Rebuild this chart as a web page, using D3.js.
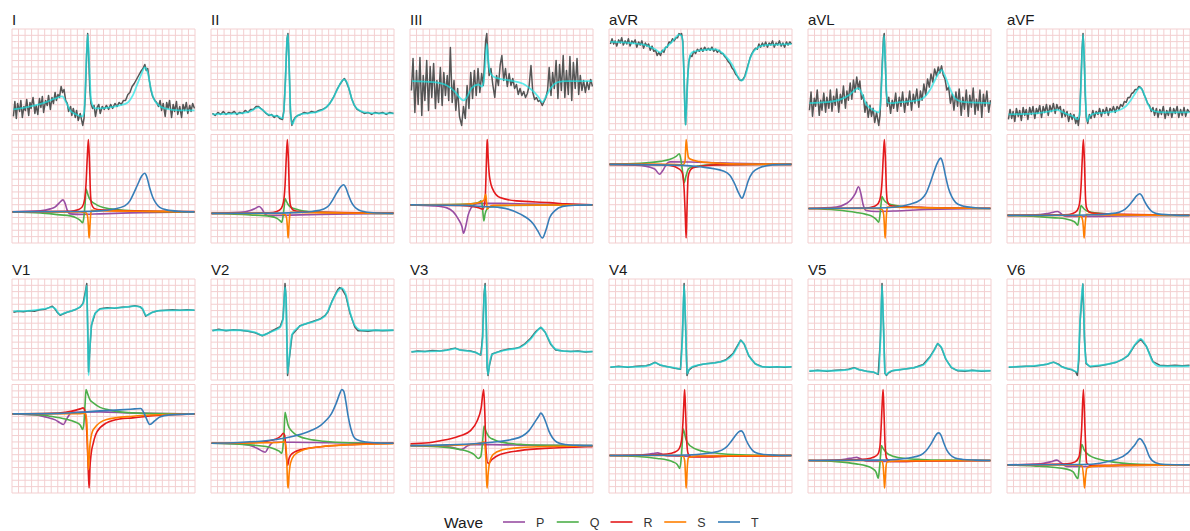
<!DOCTYPE html>
<html>
<head>
<meta charset="utf-8">
<script src="https://cdn.jsdelivr.net/npm/d3@7"></script>
<style>
  body { margin: 0; background: #fff; }
  svg { display: block; font-family: "Liberation Sans", Arial, sans-serif; }
</style>
</head>
<body>
<svg id="chart" width="1190" height="531"></svg>
<script>
// ECG beat decomposition: recorded signal + fitted curve, and the P/Q/R/S/T components.
// time t runs 0..100 across one beat, amplitudes in arbitrary units.
// every series is a flat list: t, value, t, value, ...

const leadNames = ["I", "II", "III", "aVR", "aVL", "aVF", "V1", "V2", "V3", "V4", "V5", "V6"];
const waveNames = ["P", "Q", "R", "S", "T"];
const waveColors = ["#984EA3", "#4DAF4A", "#E41A1C", "#FF7F00", "#377EB8"];

const signalData = [
  // I
  [0.5,14, 1.3,29, 2.1,12, 2.8,27, 3.9,19, 4.6,30, 5.4,13, 6.3,24, 7.1,20, 7.8,31, 8.9,15, 9.6,28, 10.2,22, 11.3,33, 12.3,17, 13,25, 13.9,16, 14.8,32, 15.6,23, 16.4,34, 17.1,18, 18.2,30, 19.1,25, 19.8,35, 20.8,21, 21.7,33, 22.5,27, 23.4,38, 24.1,30, 25,36, 25.8,33, 26.7,44, 27.5,38, 28.3,41, 29.2,30, 30.1,27, 30.8,19, 31.9,24, 32.6,15, 33.4,22, 34.5,13, 35.2,20, 36.1,10, 37.2,17, 37.9,11, 38.6,5, 39.3,12, 40,35, 40.7,75, 41.3,97, 41.9,72, 42.5,40, 43.1,27, 44,22, 44.8,25, 45.6,14, 46.5,23, 47.4,26, 48.2,17, 49.3,24, 50.4,21, 51.6,25, 52.8,21, 53.9,26, 55,22, 56.3,27, 57.5,24, 58.6,28, 59.8,26, 61,30, 62.1,30, 63.4,36, 64.5,38, 65.7,44, 66.9,47, 68.1,51, 69.3,55, 70.5,59, 71.7,62, 72.7,66, 73.5,60, 74.3,62, 75.1,51, 76,41, 77,34, 78.2,30, 79.2,28, 80.2,24, 81.1,30, 81.9,20, 82.8,27, 83.9,14, 84.7,28, 85.5,22, 86.3,30, 87.4,13, 88.3,26, 89.1,19, 90.1,29, 90.8,16, 91.9,24, 92.9,13, 93.7,26, 94.6,20, 95.5,28, 96.3,17, 97.4,25, 98.1,19, 99,27, 100,22],
  // II
  [0.5,17, 2,15, 3.5,18, 5,16, 6.5,19, 8,16, 9.5,18, 11,17, 12.5,19, 14,16, 15.5,18, 17,17, 18.5,20, 20,18, 21.5,21, 23,21, 24.5,24, 25.7,24, 27,22, 28.4,20, 30,17, 31.5,15, 33,16, 34.5,13, 36,15, 37.5,12, 39,11, 39.8,20, 40.6,50, 41.5,92, 42,97, 42.6,68, 43.4,18, 44.2,5, 45,10, 46,13, 47.5,15, 49,16, 51,18, 53,17, 55,19, 57,18, 59,20, 61,21, 63,23, 65,27, 67,33, 69,41, 70.5,46, 72,50, 73,52, 74,49, 75.5,42, 77,32, 78.5,25, 80,21, 82,19, 84,17, 86,18, 88,16, 90,18, 92,17, 94,18, 96,16, 98,18, 100,17],
  // III
  [0.5,40, 1.4,72, 2.4,18, 3.3,60, 4.2,26, 5.2,73, 6.2,15, 7,55, 7.9,30, 8.9,70, 9.9,20, 10.8,64, 11.7,33, 12.7,67, 13.7,22, 14.5,50, 15.4,28, 16.4,63, 17.4,25, 18.3,58, 19.2,35, 20.2,55, 21,30, 21.9,83, 22.9,28, 23.9,50, 24.9,20, 25.9,42, 26.9,14, 28.1,5, 29.1,24, 30.1,12, 31.1,45, 32.1,22, 33.1,58, 34.1,32, 35.1,60, 36.1,35, 37.1,62, 38.1,38, 39.1,57, 40,45, 40.7,70, 41.3,90, 41.9,97, 42.5,75, 43.2,55, 44.2,62, 45.2,46, 46.3,33, 47.3,55, 48.3,45, 49.3,66, 50.2,75, 51.2,50, 52.2,62, 53.2,44, 54.2,57, 55.2,45, 56.2,52, 57.2,42, 58.2,46, 59.2,36, 60.2,42, 61.2,35, 62.2,39, 63.2,33, 64.2,37, 65.2,45, 66.2,65, 67.2,38, 68.2,31, 69.2,33, 70.2,29, 71.2,30, 72.4,25, 73.4,29, 74.4,33, 75.3,40, 76.2,63, 77.2,35, 78.1,58, 79,42, 80,70, 81,32, 81.9,66, 82.9,40, 83.9,75, 84.8,33, 85.7,60, 86.7,36, 87.6,74, 88.6,30, 89.5,68, 90.5,42, 91.5,72, 92.4,36, 93.3,55, 94.2,40, 95.1,50, 96.1,38, 97,49, 98,41, 99,51, 100,44],
  // aVR
  [0.5,83, 1.4,88, 2.3,83, 3.1,86, 4,81, 5,87, 5.9,84, 6.7,89, 7.6,82, 8.6,86, 9.5,83, 10.4,88, 11.3,81, 12.3,86, 13.2,84, 14.1,87, 15,80, 16,85, 16.9,82, 17.8,86, 18.7,79, 19.7,84, 20.6,81, 21.5,83, 22.4,77, 23.4,81, 24.3,76, 25.3,77, 26.2,72, 27.1,75, 28,72, 29,77, 29.9,75, 30.8,80, 31.7,80, 32.7,85, 33.6,84, 34.6,88, 35.5,86, 36.5,89, 37.4,89, 38.2,93, 38.9,92, 39.6,93, 40.3,85, 40.9,55, 41.5,15, 41.8,6, 42.3,25, 42.9,50, 43.6,66, 44.4,72, 45.3,71, 46.3,76, 47.3,74, 48.3,78, 49.3,76, 50.3,79, 51.3,76, 52.3,80, 53.3,77, 54.3,79, 55.3,77, 56.3,80, 57.3,76, 58.3,78, 59.3,75, 60.3,77, 61.3,74, 62.3,74, 63.3,71, 64.3,69, 65.3,66, 66.3,64, 67.3,60, 68.3,58, 69.3,54, 70.3,52, 71.3,49, 72.3,48, 73.3,49, 74.3,52, 75.3,58, 76.3,64, 77.3,70, 78.3,74, 79.3,77, 80.3,79, 81.2,78, 82.1,83, 83,80, 84,84, 84.9,81, 85.8,85, 86.8,80, 87.7,84, 88.6,82, 89.6,86, 90.5,80, 91.5,84, 92.4,82, 93.4,86, 94.3,81, 95.3,84, 96.2,80, 97.2,85, 98.1,82, 99.1,85, 100,83],
  // aVL
  [0.5,20, 1.4,38, 2.2,14, 3.2,32, 3.9,24, 4.8,40, 5.9,15, 6.7,30, 7.4,20, 8.4,37, 9.4,18, 10.1,33, 11.2,22, 12,40, 12.9,19, 13.8,34, 14.7,25, 15.5,41, 16.6,18, 17.5,36, 18.3,27, 19.2,44, 20.3,22, 21.1,39, 21.9,30, 22.9,47, 23.8,31, 24.7,50, 25.6,38, 26.5,53, 27.4,41, 28.2,49, 29.1,31, 30.1,35, 31,18, 31.9,28, 32.8,13, 33.8,25, 34.6,14, 35.5,22, 36.4,8, 37.4,18, 38.6,5, 39.3,15, 39.9,40, 40.6,70, 41.2,92, 41.6,96, 42.1,72, 42.7,40, 43.3,24, 44.1,33, 45.1,17, 46,30, 46.8,22, 47.9,37, 48.8,19, 49.9,33, 50.8,24, 51.7,38, 52.8,18, 53.7,32, 54.6,25, 55.6,39, 56.6,20, 57.6,36, 58.5,27, 59.5,41, 60.6,23, 61.5,39, 62.4,30, 63.4,46, 64.4,35, 65.4,51, 66.4,43, 67.3,56, 68.3,48, 69.3,61, 70.3,54, 71.3,63, 72.2,57, 73.1,64, 74,55, 75,51, 76,40, 77,43, 78,27, 79,36, 79.9,20, 81,38, 81.9,24, 82.8,41, 83.9,15, 84.8,33, 85.7,21, 86.7,40, 87.8,14, 88.6,35, 89.5,23, 90.5,42, 91.5,16, 92.3,31, 93.2,20, 94.2,40, 95.2,13, 96.1,36, 97,24, 98,39, 99,18, 100,30],
  // aVF
  [0.5,10, 1.4,20, 2.3,11, 3.1,18, 4,8, 4.9,21, 5.9,13, 6.7,19, 7.6,9, 8.6,22, 9.5,14, 10.3,20, 11.2,10, 12.2,22, 13.1,15, 14,23, 15,11, 15.9,21, 16.7,16, 17.7,24, 18.7,12, 19.6,23, 20.5,17, 21.4,25, 22.4,14, 23.3,24, 24.2,18, 25.2,26, 26.2,16, 27.1,25, 28,20, 29,23, 29.9,12, 30.8,20, 31.7,13, 32.7,18, 33.6,8, 34.6,16, 35.5,10, 36.5,15, 37.5,6, 38.3,12, 38.9,4, 39.6,14, 40.2,40, 40.9,78, 41.5,96, 42.1,74, 42.7,35, 43.3,12, 44.1,6, 45,15, 45.9,11, 46.9,19, 47.8,12, 48.7,18, 49.7,15, 50.6,21, 51.6,13, 52.5,20, 53.5,16, 54.4,22, 55.4,14, 56.3,21, 57.3,18, 58.2,23, 59.2,17, 60.2,23, 61.2,20, 62.2,25, 63.2,23, 64.2,28, 65.2,27, 66.2,32, 67.2,32, 68.2,36, 69.2,37, 70.2,40, 71.2,40, 72.2,43, 73.1,42, 74,40, 75,35, 76,31, 77,26, 78,24, 79,18, 79.9,22, 80.8,14, 81.8,21, 82.7,12, 83.7,20, 84.6,15, 85.6,23, 86.6,11, 87.5,19, 88.4,14, 89.4,22, 90.3,12, 91.3,21, 92.2,16, 93.2,23, 94.1,12, 95.1,20, 96,14, 97,22, 97.9,13, 98.9,20, 100,17],
  // V1
  [0.5,68, 3,69, 6,68.5, 9,69.5, 12,69, 15,70.5, 18,71, 20,72.5, 21.9,74, 23,72, 24.5,68, 26.2,65, 28,66.5, 30,68, 32.8,69.5, 35,71, 37.2,73, 38.8,77, 40,88, 40.8,96.5, 41.3,55, 41.8,8.5, 42.3,26, 43.4,55, 45.4,67, 48.1,71.5, 52,72.5, 56,72, 60,73, 64,73.5, 67.2,74.5, 70,73.5, 71.5,71, 73.2,64, 75,66, 77,68, 80,69.5, 84,70, 88,70.5, 92,70, 96,70.5, 100,70],
  // V2
  [0.5,48, 4,49.5, 8,48, 12,49, 16,48.5, 20,47.5, 24,46, 27.9,43, 31,45.5, 34,48.5, 37.7,52, 39.3,60, 40.4,95, 41,80, 41.8,3.5, 42.6,18, 44.3,44, 48.6,53, 52,55, 56.8,58, 60,60, 62.3,63, 64,67, 66.1,77, 68,84, 69.4,89, 70.5,91, 71.6,90, 73.8,83, 76,66, 78.7,52, 80.5,48, 82.5,48, 86,47.5, 90,48.5, 94,48, 100,48.5],
  // V3
  [0.5,27, 4,28, 8,27.5, 12,28.5, 16,28, 20,29, 22,30, 24.6,31, 27.3,29, 30,28.5, 33,28, 36,26.5, 38.6,24, 39.6,42, 40.4,85, 41,96, 41.6,60, 42.1,12, 42.6,3.5, 43.4,14, 44.8,25, 49.2,28, 54,30, 57,30.5, 60,32, 63,35.5, 66,41, 69,48, 71.6,52, 74,47, 77,35, 79.8,29, 84,28, 88,27.5, 92,28, 96,27, 100,27.5],
  // V4
  [0.5,13, 5,14, 10,13, 15,14, 20,14.5, 22,15.5, 25.1,18, 28,15, 32,13.5, 36,12, 39,11, 40,42, 41,96, 41.8,55, 42.6,5, 43.7,10.5, 45.4,13, 49.7,15.5, 53,16.5, 57.9,17.5, 61,18.5, 64,20.5, 68,27, 70.5,35, 72.1,40, 74,36, 76.5,24.5, 80,16.5, 84.2,13.5, 88,13, 92,13.5, 96,13, 100,13.5],
  // V5
  [0.5,11, 5,12, 10,11, 15,12, 20,12.5, 22,13, 25.1,14.5, 28,12.5, 32,11, 36,10, 38.3,8, 39.5,42, 40.4,96, 41.2,55, 42,9, 42.8,7, 44,9.5, 46,11.5, 50,12.5, 54,13.5, 58,14.5, 63,17.5, 66.5,24.5, 69,31.5, 71,38, 73,34, 75.5,22.5, 78.5,14.5, 82,11.5, 86,11, 90,12, 95,11, 100,11.5],
  // V6
  [0.7,12.5, 5,13, 10,13.5, 14.4,13.5, 18,14.5, 21.7,15.5, 25.3,17.5, 28,15.5, 29.9,13, 33,11, 35.4,10, 37.5,8, 38.4,4.5, 39.2,20, 39.9,58, 41.4,94, 42.3,40, 43.2,16, 45.4,13, 50.8,14, 55,15.5, 59.9,17.5, 63,20, 66.3,24, 69.9,34, 73.2,40, 76.3,33, 79.9,18, 83.6,14.5, 88,14, 92,14.5, 96,14, 100,14.5]
];

const fitData = [
  [0.5,21, 9.8,24, 18,28, 23.5,32, 27.3,34, 29.5,28, 31.7,20, 35,16, 38.3,14, 39.3,18, 40.4,60, 41.3,96, 42.1,70, 43.2,30, 45.4,22, 48.1,22, 53.6,23, 59,25, 63.4,28, 66.1,35, 68.3,45, 70.5,55, 72.7,63, 74.3,58, 76,42, 77.6,32, 79.8,26, 83.6,22, 91.8,20, 100,20],
  [0.5,16, 15.8,17, 21.3,19, 25.7,23, 28.4,20, 31.1,16, 36.6,14, 39.3,12, 40.4,40, 41.5,90, 42,96, 42.6,70, 43.4,20, 44.3,6, 45.9,12, 48.6,16, 56.8,18, 62.3,22, 66.1,30, 69.4,42, 72.7,51, 74.9,46, 77,32, 79.8,22, 84.2,18, 92.3,17, 100,17],
  [0.9,49.3, 12.7,48.3, 20,45, 24.6,38.3, 27.3,32.3, 29.1,30, 31,33.3, 33.7,42.7, 37.3,46, 39.2,44, 40,46.7, 41,63.3, 41.9,86.7, 42.6,73.3, 43.7,58.3, 45.5,54, 49.2,51.7, 54.6,50, 61.9,46.7, 66.5,40.7, 70.1,34, 72.5,28.3, 74.7,35, 77.4,43.3, 81,48.3, 85.6,49.3, 100,49.3],
  [0.5,85, 11.5,84, 19.7,82, 25.1,78, 27.9,75, 30.6,79, 34.4,85, 38.3,92, 39.9,90, 41,50, 41.8,5, 42.6,35, 43.7,68, 45.4,75, 49.7,77, 57.9,78, 63.4,72, 67.8,62, 70.5,52, 72.7,48, 74.9,54, 77,68, 80.3,78, 85.2,82, 100,83],
  [0.5,27, 10,28, 18,31, 23,36, 27.3,42, 29.5,36, 31.7,26, 35,21, 38.6,18, 39.5,25, 40.5,60, 41.5,94, 42.2,70, 43.2,28, 45.4,27, 50,28, 57,29, 62,31, 66.7,40, 69.5,50, 72,58, 73.2,60, 74.5,56, 77.6,42, 80,33, 82,30, 86,28, 100,27],
  [0.5,15, 10,15.5, 18,16.5, 23,18, 27.3,19.5, 30,17.5, 33,15, 36,13, 38.6,10, 39.6,15, 40.6,55, 41.5,95, 42.2,70, 43.1,22, 43.8,8, 45,13, 48,16, 55,17, 61,19, 65,23, 68,30, 70.5,37, 72.7,42, 74.5,38, 76.5,28, 78.5,21, 81,18, 86,17, 100,17],
  [0.5,69, 9.8,69.5, 18,71.5, 21.9,73, 23.5,71.5, 26.2,65.5, 29,67.5, 32.8,69.5, 37.2,73.5, 38.8,76.5, 40.2,87.5, 40.8,94.5, 41.3,49.5, 41.8,5, 42.3,24.5, 43.4,54.5, 45.4,66.5, 48.1,71, 59,72.5, 67.2,74, 71,72.5, 73.6,64.5, 76.5,67.5, 80.9,69.5, 100,70],
  [0.5,48.5, 15.8,48.5, 24,46.5, 27.9,43.5, 32.2,46.5, 37.7,51.5, 39.3,59.5, 40.4,91.5, 41,79.5, 41.8,5.5, 42.6,19.5, 44.3,44.5, 48.6,52.5, 56.8,57.5, 62.3,62.5, 66.1,76.5, 69.4,87.5, 71.6,90.5, 73.8,84.5, 76,67.5, 78.7,53.5, 82.5,48.5, 100,48.5],
  [0.5,27.5, 15,28, 22,29.5, 24.6,30.5, 27.3,29, 32,28, 36,26.5, 38.6,24.5, 39.6,40, 40.4,80, 41,94.5, 41.6,60, 42.1,15, 42.6,4.5, 43.4,15, 44.8,24.5, 49.2,27.5, 54,29.5, 60,31.5, 63,35, 66,40, 69,47, 71.6,51.5, 74,47, 77,36, 79.8,30, 84,28, 100,27.5],
  [0.5,13.5, 15,13.5, 22,15, 25.1,17.5, 28,15.5, 32,13.5, 36,12.5, 39,11.5, 40,40, 41,94.5, 41.8,55, 42.6,6.5, 43.7,11, 45.4,13.5, 49.7,15.5, 57.9,17.5, 64,20, 68,26, 70.5,34, 72.1,39.5, 74,36, 76.5,25, 80,17, 84.2,13.5, 100,13.5],
  [0.5,11.5, 15,11.5, 22,12.5, 25.1,14, 28,12.5, 32,11, 36,10, 38.3,8.5, 39.5,40, 40.4,94.5, 41.2,55, 42,10, 42.8,7.5, 44,10, 46,11.5, 50,12.5, 58,14.5, 63,17, 66.5,24, 69,31, 71,37.5, 73,34, 75.5,23, 78.5,15, 82,12, 100,11.5],
  [0.7,12.8, 14.4,13.8, 21.7,15.5, 25.3,17.2, 29.9,12.8, 35.4,10.2, 38.4,7.8, 39.9,57.8, 41.4,94.5, 42.3,41.2, 43.2,17.2, 45.4,13.5, 50.8,14.5, 59.9,17.8, 66.3,24.5, 69.9,34.5, 73.2,40.2, 76.3,32.8, 79.9,17.8, 83.6,13.5, 100,13.5]
];

const waveP = [
  [0,0, 15.3,1, 20.8,3, 23.5,5, 25.7,9, 27.7,12, 29,8, 30,2, 31.7,-2, 37.2,-2.5, 48,-2, 64.5,-1, 100,0],
  [0,0, 15.8,1, 21.3,3, 24,5, 26.2,7, 27.9,4, 29.5,-1, 32.2,-2, 48.6,-1.5, 76,-0.5, 100,0],
  [0,0, 12.6,-1, 20,-3, 23.5,-7, 26.2,-14, 28.3,-22, 29.1,-28.3, 30.3,-22, 31.7,-10, 33.3,-3, 35,0.5, 38.3,1.5, 49.2,1.5, 65.6,0.8, 100,0],
  [0,0, 16.9,-1, 22.4,-3, 25.1,-5, 27.5,-10, 29,-7, 30.6,-2, 31.7,1, 33.3,2.5, 44.3,2.3, 60.7,1.5, 82.5,0.5, 100,0],
  [0,0, 15.3,1.5, 20.8,5, 23.5,9, 25.7,15, 27.5,22, 28.8,15, 30,4, 31.7,-2, 37.2,-3, 48,-2.5, 64.5,-1, 100,0],
  [0,0, 15.3,0.5, 20.8,1.5, 23.5,2.5, 25.7,3.5, 27.5,4, 29,2.5, 30.5,0, 32,-1, 40,-1.2, 55,-0.8, 75,-0.3, 100,0],
  [0,0, 12.6,-1, 18,-3, 23.5,-6, 26.2,-9, 28,-10.6, 29.5,-6, 31.1,-1, 32.8,1.7, 48.1,2, 64.5,1, 100,0],
  [0,0, 12.6,-0.5, 20.8,-2, 25,-5, 28,-8, 29.5,-9, 31,-5, 32.5,-1, 34,1, 45,1, 65,0.5, 100,0],
  [0,0, 15,-0.5, 22,-1.5, 25.5,-3, 27.5,-4, 29.5,-2.5, 31.5,0, 33,1, 45,1, 65,0.4, 100,0],
  [0,0, 15.3,0.5, 20.8,1.2, 24,2, 26.5,2.7, 28,2, 30,0.3, 32,-0.5, 45,-0.8, 65,-0.3, 100,0],
  [0,0, 15.3,0.5, 20.8,1.5, 24,2.5, 26.5,3.2, 28,2.2, 30,0.3, 32,-0.8, 45,-1, 65,-0.4, 100,0],
  [0,0, 18,1, 23.5,3, 27.1,4.7, 29.5,2, 32.6,-1.7, 47,-1.7, 61.7,-0.5, 100,0]
];

const waveQ = [
  [0,0, 15.3,-1, 26.2,-3, 31.7,-4, 35,-6, 37.2,-8.5, 38.6,-11, 39.3,-4, 39.9,8, 40.4,23, 41,20, 42.1,14, 43.7,10, 45.4,8, 48,5.5, 53.6,3, 61.7,1.5, 75.4,0.5, 100,0],
  [0,0, 21.3,-1.5, 32.2,-3, 36,-5, 38,-8, 38.6,-9, 39.3,-3, 39.9,6, 40.4,15, 41,13, 42.1,9, 43.7,6, 45.4,5, 48,3.5, 53.6,2, 61.7,1, 100,0],
  [0,0, 27.3,0.5, 35.5,1.5, 38,3, 38.6,4, 39.3,1, 39.8,-8, 40.3,-16, 41,-9, 42.1,-4, 43.7,-2, 49.2,-0.7, 100,0],
  [0,0, 16.9,1, 27.9,3, 33.3,5, 36.6,8, 38.4,10.6, 39.3,4, 40.2,-8, 41,-18.4, 42,-12, 43.2,-5, 44.3,-3.4, 49.7,-1.5, 55.2,-0.5, 100,0],
  [0,0, 15.3,-1.5, 26.2,-4, 31.7,-6, 35,-8, 37.2,-11, 38.6,-14, 39.3,-6, 39.9,5, 40.4,12, 41,10, 42.1,7, 43.7,5, 48,3, 61.7,1, 100,0],
  [0,0, 15.3,-1, 26.2,-2.5, 31.7,-3.5, 35,-5, 37.2,-7, 38.6,-10, 39.3,-3, 39.9,5, 40.4,10, 41,9, 42.1,6.5, 43.7,4.5, 48,2.5, 61.7,0.8, 100,0],
  [0,0, 15.3,-1, 20.8,-2.3, 29,-5, 34.4,-8, 37.2,-11, 38.6,-15.6, 39.3,-8, 39.9,10, 40.4,24.4, 41.3,20, 42.6,14, 44.4,11, 48.1,6.5, 51.7,4.5, 59,2, 72.7,0.5, 100,0],
  [0,0, 15.3,-1, 26.2,-2.5, 31.7,-4, 35,-6, 37.2,-8, 38.6,-10, 39.3,-3, 39.9,12, 40.4,31, 41,27, 42.1,18, 43.7,13, 45.4,10, 48,7, 53.6,4, 61.7,2, 75.4,0.5, 100,0],
  [0,0, 15.3,-1, 26.2,-3.5, 31.7,-6, 35,-9, 37.2,-13, 38.6,-11, 39.3,-2, 39.9,10, 40.4,20, 41,17, 42.1,12, 43.7,8, 45.4,6.5, 48,4.5, 53.6,2.5, 61.7,1.2, 75.4,0.4, 100,0],
  [0,0, 15.3,-1, 26.2,-3, 31.7,-4.5, 35,-6.5, 37.2,-9, 38.6,-13, 39.3,-5, 39.9,10, 40.4,27, 41,24, 42.1,16, 43.7,11, 45.4,8.5, 48,6, 53.6,3.5, 61.7,1.8, 75.4,0.5, 100,0],
  [0,0, 15.3,-1.2, 26.2,-3.5, 31.7,-5.5, 35,-8, 37.2,-12, 38.3,-18, 39,-8, 39.6,5, 40.1,15, 40.7,13, 41.8,10, 43.4,7, 45.4,5, 48,3.5, 53.6,2, 61.7,1, 75.4,0.3, 100,0],
  [0,0, 14.4,-1, 32.6,-4.3, 36.1,-7, 38.7,-13.7, 39.3,-4, 40.2,12, 40.8,20.7, 42.1,15, 45.4,9, 54.5,4, 61.7,2, 72.7,0.5, 100,0]
];

const waveR = [
  [0,0, 31.7,0.5, 36,2, 38.3,5, 39.6,12, 40.4,28, 41.1,55, 41.7,72.7, 42.3,50, 42.8,20, 43.4,8, 44.8,3.5, 48.1,2, 64.5,1, 100,0.3],
  [0,0, 31.7,0.5, 36,2, 38.3,5, 39.6,12, 40.4,28, 41.1,57, 41.7,75, 42.3,52, 42.8,20, 43.4,8, 44.8,3.5, 48.1,2, 64.5,1, 100,0.3],
  [0,0, 27.3,-0.5, 35.5,-2, 38.3,-3.5, 39.9,-4.3, 41,5, 41.5,30, 42,60, 42.2,65.7, 42.6,50, 43.2,32, 43.7,25, 44.8,17.3, 49.2,7.3, 58.3,4, 76.5,2.3, 85.6,1, 100,0],
  [0,0, 27.9,-0.3, 33.3,-1, 37.7,-4, 39.9,-8, 41,-25, 41.7,-55, 42.1,-74, 42.5,-50, 43.2,-13, 44.3,-6, 45.9,-3.4, 49.7,-2, 58.7,-0.5, 100,0],
  [0,0, 31.7,0.5, 36,2, 38.3,5, 39.6,12, 40.4,27, 41.1,53, 41.7,70, 42.3,48, 42.8,19, 43.4,7, 44.8,3, 48.1,2, 64.5,1, 100,0.3],
  [0,0, 31.7,0.5, 36,2, 38.3,5, 39.6,12, 40.4,29, 41.1,58, 41.7,77, 42.3,53, 42.8,21, 43.4,8, 44.8,3.5, 48.1,2, 64.5,1, 100,0.3],
  [0,0, 20.8,0.5, 29,1.7, 34.4,3.5, 37.2,5, 38.8,6, 39.6,4, 40.4,-5, 41.1,-30, 41.7,-60, 42.1,-74, 42.5,-55, 43.2,-40, 44.4,-29, 46.4,-18, 51.7,-9, 59,-5, 66.1,-4, 75.4,-2, 84.5,-1, 91.8,-0.5, 100,0],
  [0,0, 20,0.5, 30,2, 35,4, 38,7, 39.5,10, 40.2,8, 40.8,-5, 41.4,-18, 41.9,-22, 42.5,-16, 43.5,-12, 45.5,-9, 50,-6, 60,-3.5, 75,-1.5, 90,-0.5, 100,0],
  [0,2, 10,3, 16.4,5, 22,7, 27.3,10, 32.8,15, 36.6,25, 38.8,38, 40.2,57, 40.8,35, 41.5,-5, 42.6,-18, 44.8,-14, 49.2,-9, 60.1,-5, 76.5,-2.5, 90,-1.5, 100,-1],
  [0,0, 20,0.5, 31.7,1.5, 36,3.5, 38.3,7, 39.6,15, 40.4,35, 40.9,55, 41.3,67, 41.8,45, 42.4,15, 43.2,2, 45,-1.5, 50,-1.5, 65,-0.8, 100,0],
  [0,0, 20,0.5, 31.7,1.5, 36,3.5, 38.3,7, 39.3,15, 40,37, 40.6,62, 41,72, 41.5,48, 42.1,15, 42.9,2, 45,-1, 50,-1, 65,-0.5, 100,0],
  [0,0, 32.6,1, 37.2,3, 39.3,8, 40.7,35, 41.7,75.7, 42.6,35, 43.5,2, 45.4,-0.5, 61.7,-0.5, 100,0]
];

const waveS = [
  [0,0, 37.2,0, 40.4,-1, 41.3,-5, 41.8,-18, 42.1,-26.3, 42.5,-15, 42.9,-4, 43.4,1.5, 48.1,1.2, 75.4,0.5, 100,0],
  [0,0, 37.2,0, 40.4,-1, 41.3,-5, 41.8,-17, 42.1,-25, 42.5,-14, 42.9,-4, 43.4,1.2, 48.1,1, 75.4,0.4, 100,0],
  [0,0, 27.3,0.3, 32.8,1, 38.3,2.7, 40.4,5, 41.3,10.7, 41.8,3, 42.2,-4, 43.2,-2, 45.4,-0.5, 100,0],
  [0,0, 33.3,0, 40.4,-0.5, 41.5,3, 42.1,25, 42.7,15, 43.4,7, 44.3,5.3, 49.7,2.7, 60.7,1, 71.6,0.3, 100,0],
  [0,0, 37.2,0, 40.4,-1, 41.3,-6, 41.8,-21, 42.1,-30, 42.5,-17, 42.9,-5, 43.4,1.5, 48.1,1.2, 75.4,0.5, 100,0],
  [0,0, 37.2,0, 40.4,-1, 41.3,-5, 41.8,-16, 42.1,-23, 42.5,-13, 42.9,-4, 43.4,1, 48.1,0.8, 75.4,0.3, 100,0],
  [0,0, 37.2,0.3, 39.9,0.5, 40.7,-5, 41.4,-40, 41.7,-55.6, 42.1,-45, 42.6,-30, 44.4,-15.6, 51.7,-5.6, 66.1,-2.3, 84.5,-0.7, 100,0],
  [0,0, 30,0.5, 38,1, 40.4,1.5, 41.2,-10, 41.8,-40, 42.1,-45, 42.6,-32, 43.4,-20, 45.4,-12, 50,-7, 60,-3.5, 75,-1.5, 100,-0.5],
  [0,0, 25,0.5, 35,1.5, 39,3, 40.5,4, 41.3,-10, 41.8,-35, 42.1,-43, 42.6,-30, 43.4,-18, 45.4,-9, 50,-4.5, 60,-2, 75,-0.8, 100,-0.3],
  [0,0, 37.2,0, 40.4,-0.5, 41.3,-5, 41.8,-22, 42.1,-33, 42.5,-20, 42.9,-8, 43.4,-2, 48.1,-0.5, 75.4,-0.2, 100,0],
  [0,0, 37.2,0, 40.4,-0.5, 41,-5, 41.5,-19, 41.8,-28, 42.2,-17, 42.6,-6, 43.2,-1.5, 48.1,-0.5, 75.4,-0.2, 100,0],
  [0,0, 37.2,0, 40.9,-1, 41.8,-12, 42.3,-23.3, 42.9,-12, 43.7,-3, 47,-1.5, 61.7,-0.7, 100,0]
];

const waveT = [
  [0,0, 37.2,0.3, 48,1, 55.2,2.7, 61.7,6, 64.5,11, 66.7,19, 68.9,28, 71,36, 72.7,38.7, 73.8,35, 75.4,24, 77,15, 78.7,9, 80.9,4.5, 84.7,2, 91.8,0.5, 100,0],
  [0,0, 37.2,0.3, 48,1, 55.2,2, 61.7,4.5, 64.5,8, 66.7,14, 68.9,21, 71,27, 72.7,29, 73.8,26, 75.4,18, 77,11, 78.7,6.5, 80.9,3.5, 84.7,1.5, 91.8,0.4, 100,0],
  [0,0, 31,-0.5, 38.3,-1.5, 49.2,-2.7, 60.1,-9, 67.4,-19, 69.9,-26, 72.5,-33.3, 74.3,-26, 76.5,-12.7, 79.2,-6, 83.6,-1.5, 90.2,-0.3, 100,0],
  [0,0, 40.4,-1, 49.7,-2.5, 62.5,-6.7, 66.1,-11, 68.9,-20, 71,-29, 72.8,-34, 74.3,-28, 76.2,-16.7, 78.7,-8, 82.5,-3.4, 89.6,-0.5, 100,0],
  [0,0, 37.2,0.5, 48,1.5, 55.2,4, 61.7,9, 64.5,15, 66.7,25, 68.9,37, 71,47, 72.7,51, 73.8,46, 75.4,32, 77,20, 78.7,12, 80.9,6, 84.7,2.5, 91.8,0.7, 100,0],
  [0,0, 37.2,0.2, 48,0.6, 55.2,1.5, 61.7,3.5, 64.5,6, 66.7,10, 68.9,15, 71,20, 72.7,22, 73.8,20, 75.4,14, 77,9, 78.7,5, 80.9,2.5, 84.7,1, 91.8,0.3, 100,0],
  [0,0, 26.2,0.5, 37.2,1.5, 48.1,3, 59,4, 67.2,5, 70.5,5.4, 71.6,3, 73.2,-3, 75.4,-10.6, 78.1,-7, 80.9,-3, 86.3,-1, 100,0],
  [0,0, 15,0.8, 30,2.5, 40,5, 45,7, 50,9.5, 55,13, 60,18, 63,23, 66,30, 68.5,40, 70.5,50, 71.6,54, 72.7,52, 73.8,42, 75,28, 76.5,15, 78,7, 80,3.5, 85,1.2, 92,0.3, 100,0],
  [0,0, 20,0.8, 35,2, 45,3.5, 55,6, 61.7,10, 65,15, 68,23, 70.5,30, 71.6,33, 72.7,31, 74.3,24, 76,15, 78,8, 80.5,3.5, 85,1.2, 92,0.3, 100,0],
  [0,0, 37.2,0.3, 48,1, 55.2,2.5, 61.7,5.5, 64.5,9, 66.7,14, 68.9,19.5, 71,24, 72.4,25, 73.5,23, 75,16, 77,9, 78.7,5, 80.9,2.5, 84.7,1, 91.8,0.3, 100,0],
  [0,0, 37.2,0.3, 48,1, 55.2,2.5, 61.7,5.5, 64.5,9.5, 66.7,15, 68.9,22, 70.5,27, 71.6,28, 72.7,26, 74.3,18, 76,10.5, 78,5.5, 80.5,2.5, 84.7,1, 91.8,0.3, 100,0],
  [0,0, 41.5,0.3, 59.9,5.7, 66.3,12.3, 69.9,20, 72.7,26.3, 75.4,20, 78.1,7.7, 81.4,2, 86.3,0.3, 100,0]
];

const waveData = [waveP, waveQ, waveR, waveS, waveT];

// ---------- layout ----------
const svg = d3.select("#chart");
const colLeft = [12, 211, 410, 609, 808, 1007];
const rowTop = [29, 279];
const panelW = 183, topH = 101, gapH = 4.5, botH = 108.5;

const toPts = a => d3.range(0, a.length, 2).map(i => [a[i], a[i + 1]]);

let clipId = 0;
function drawPanel(g, x0, y0, h, series) {
  const x = d3.scaleLinear().domain([0, 100]).range([x0 + 0.5, x0 + panelW - 0.5]);
  const all = series.flatMap(s => s.pts.map(p => p[1]));
  const [lo, hi] = d3.extent(all);
  const pad = (hi - lo) * 0.05;
  const y = d3.scaleLinear().domain([lo - pad, hi + pad]).range([y0 + h, y0]);

  // ecg paper grid
  const nx = 28, ny = Math.round(h / 6.3);
  const grid = g.append("g");
  grid.selectAll("line.v").data(d3.range(nx + 1)).join("line")
    .attr("x1", i => x0 + i * panelW / nx).attr("x2", i => x0 + i * panelW / nx)
    .attr("y1", y0).attr("y2", y0 + h)
    .attr("stroke", "#f3cfd0").attr("stroke-width", 1);
  grid.selectAll("line.h").data(d3.range(ny + 1)).join("line")
    .attr("y1", i => y0 + i * h / ny).attr("y2", i => y0 + i * h / ny)
    .attr("x1", x0).attr("x2", x0 + panelW)
    .attr("stroke", "#f3cfd0").attr("stroke-width", 1);

  const id = "clip" + (clipId++);
  g.append("clipPath").attr("id", id).append("rect")
    .attr("x", x0).attr("y", y0).attr("width", panelW).attr("height", h);
  const lines = g.append("g").attr("clip-path", `url(#${id})`);
  series.forEach(s => {
    const line = d3.line().x(d => x(d[0])).y(d => y(d[1])).curve(s.curve);
    lines.append("path").datum(s.pts)
      .attr("d", line)
      .attr("fill", "none")
      .attr("stroke", s.color)
      .attr("stroke-opacity", s.opacity || 1)
      .attr("stroke-width", s.width)
      .attr("stroke-linejoin", "round");
  });
}

leadNames.forEach((name, i) => {
  const x0 = colLeft[i % 6], y0 = rowTop[Math.floor(i / 6)];
  const g = svg.append("g");
  g.append("text")
    .attr("x", x0).attr("y", y0 - 4.5)
    .attr("font-size", 15).attr("fill", "#1a1a1a")
    .text(name);

  drawPanel(g, x0, y0, topH, [
    { pts: toPts(signalData[i]), color: "#555555", width: 1.5, curve: d3.curveLinear },
    { pts: toPts(fitData[i]), color: "#19e6e6", opacity: 0.7, width: 1.8, curve: d3.curveMonotoneX }
  ]);
  drawPanel(g, x0, y0 + topH + gapH, botH, waveData.map((w, k) => ({
    pts: toPts(w[i]), color: waveColors[k], width: 1.6, curve: d3.curveMonotoneX
  })));
});

// ---------- legend ----------
const legend = svg.append("g");
legend.append("text").attr("x", 444).attr("y", 527.5)
  .attr("font-size", 15.5).attr("fill", "#1a1a1a").text("Wave");
waveNames.forEach((w, k) => {
  const kx = 503 + k * 53.75;
  legend.append("line")
    .attr("x1", kx).attr("x2", kx + 22).attr("y1", 522).attr("y2", 522)
    .attr("stroke", waveColors[k]).attr("stroke-width", 1.6);
  legend.append("text").attr("x", kx + 33).attr("y", 527)
    .attr("font-size", 12.5).attr("fill", "#333").text(w);
});
</script>
</body>
</html>
